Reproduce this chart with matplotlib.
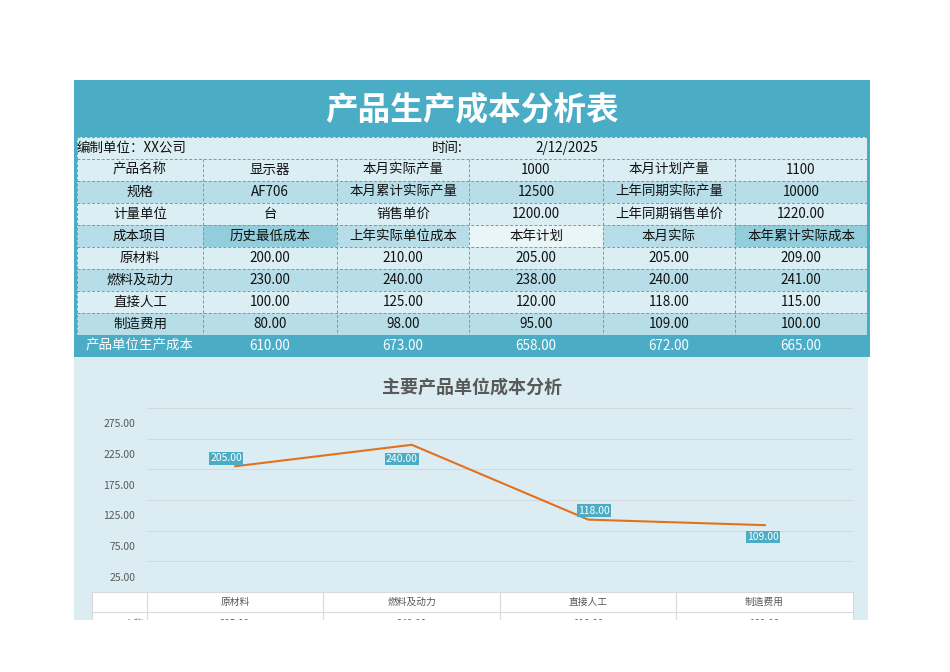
import numpy as np
import matplotlib.pyplot as plt
from matplotlib.patches import Rectangle

plt.rcParams['font.family'] = ['Noto Sans CJK SC', 'DejaVu Sans']

# ---- 表格数据 ----
title = "产品生产成本分析表"
company = "编制单位：XX公司"
date_label = "时间:"
date_value = "2/12/2025"
info_rows = [
    ["产品名称", "显示器", "本月实际产量", "1000", "本月计划产量", "1100"],
    ["规格", "AF706", "本月累计实际产量", "12500", "上年同期实际产量", "10000"],
    ["计量单位", "台", "销售单价", "1200.00", "上年同期销售单价", "1220.00"],
]
headers = ["成本项目", "历史最低成本", "上年实际单位成本", "本年计划", "本月实际", "本年累计实际成本"]
items = ["原材料", "燃料及动力", "直接人工", "制造费用"]
hist_low = [200, 230, 100, 80]
last_year = [210, 240, 125, 98]
plan = [205, 238, 120, 95]
month_actual = [205, 240, 118, 109]
ytd = [209, 241, 115, 100]
total_label = "产品单位生产成本"

chart_title = "主要产品单位成本分析"
series_name = "名称"

# ---- 颜色 ----
TEAL = '#4BACC6'
LIGHT = '#DAEEF3'
MID = '#B7DEE8'
DARK = '#92CDDC'
PALE = '#EAF5F8'
CHART_BG = '#DBEDF3'
BORDER = '#4FA9C4'
LINE = '#E2711D'
GREY = '#595959'
FS = 9.7

fig = plt.figure(figsize=(9.5, 6.72), dpi=100)
bg = fig.add_axes([0, 0, 1, 1])
bg.set_xlim(0, 950)
bg.set_ylim(672, 0)
bg.axis('off')

cols = [77, 203, 337, 469, 603, 735, 867]
row_top = 137
row_h = 22


def cell_text(ci, ri, s, color='#111111', **kw):
    x = (cols[ci] + cols[ci + 1]) / 2
    y = row_top + row_h * ri + row_h / 2
    bg.text(x, y, s, ha='center', va='center', fontsize=FS, color=color, **kw)


def fill(x0, y0, x1, y1, c, z=1):
    bg.add_patch(Rectangle((x0, y0), x1 - x0, y1 - y0, facecolor=c, edgecolor='none', zorder=z))


# 外框与标题
fill(74, 80, 870, 357, TEAL, 0)
bg.text(472, 110, title, ha='center', va='center', fontsize=23.5, fontweight='bold', color='white')

# 编制单位行
fill(77, 137, 867, 159, LIGHT)
bg.text(77, 148, company, ha='left', va='center', fontsize=FS, color='#111111')
bg.text(463, 148, date_label, ha='right', va='center', fontsize=FS, color='#111111')
bg.text(567, 148, date_value, ha='center', va='center', fontsize=FS, color='#111111')

# 基本信息行
for i, row in enumerate(info_rows):
    r = i + 1
    fill(77, row_top + r * row_h, 867, row_top + (r + 1) * row_h, LIGHT if i % 2 == 0 else MID)
    for ci, s in enumerate(row):
        cell_text(ci, r, s)

# 表头行
r = 4
header_colors = [MID, DARK, MID, PALE, MID, DARK]
for ci, s in enumerate(headers):
    fill(cols[ci], row_top + r * row_h, cols[ci + 1], row_top + (r + 1) * row_h, header_colors[ci])
    cell_text(ci, r, s)

# 成本明细
series = [hist_low, last_year, plan, month_actual, ytd]
for i, name in enumerate(items):
    r = 5 + i
    fill(77, row_top + r * row_h, 867, row_top + (r + 1) * row_h, LIGHT if i % 2 == 0 else MID)
    cell_text(0, r, name)
    for ci, vals in enumerate(series):
        cell_text(ci + 1, r, "%.2f" % vals[i])

# 合计行
r = 9
bg.text(86, row_top + r * row_h + row_h / 2, total_label, ha='left', va='center', fontsize=FS, color='white')
for ci, vals in enumerate(series):
    cell_text(ci + 1, r, "%.2f" % sum(vals), color='white')

# 虚线边框
dash = (0, (3, 2))
for k in range(0, 10):
    y = row_top + k * row_h
    bg.plot([77, 867], [y, y], color=BORDER, lw=0.7, ls=dash, zorder=2)
for x in cols:
    bg.plot([x, x], [159, 335], color=BORDER, lw=0.7, ls=dash, zorder=2)
for x in [77, 867]:
    bg.plot([x, x], [137, 159], color=BORDER, lw=0.7, ls=dash, zorder=2)

# 图表区域
fill(74, 357, 868, 620, CHART_BG, 0)
bg.text(472, 387, chart_title, ha='center', va='center', fontsize=13, fontweight='bold', color=GREY)

# 数据表
tab_x = [92, 147, 323, 500, 676, 853]
fill(92, 592, 853, 640, 'white', 1)
for y in [592, 612]:
    bg.plot([92, 853], [y, y], color='#D9D9D9', lw=0.8, zorder=2)
for x in tab_x:
    bg.plot([x, x], [592, 640], color='#D9D9D9', lw=0.8, zorder=2)
for k, name in enumerate(items):
    xc = (tab_x[k + 1] + tab_x[k + 2]) / 2
    bg.text(xc, 602, name, ha='center', va='center', fontsize=7, color=GREY)
    bg.text(xc, 624, "%.2f" % month_actual[k], ha='center', va='center', fontsize=7, color=GREY)
bg.text(144, 624, series_name, ha='right', va='center', fontsize=7, color=GREY)
fill(0, 620, 950, 672, 'white', 10)

# 折线图
ax = fig.add_axes([147 / 950, (672 - 592) / 672, 706 / 950, (592 - 408) / 672])
ax.set_facecolor('none')
x = np.arange(len(items))
ax.plot(x, month_actual, color=LINE, lw=1.5)
ax.set_xlim(-0.5, len(items) - 0.5)
ax.set_ylim(0, 300)
ax.set_xticks([])
ax.set_yticks(np.arange(25, 300, 50))
ax.set_yticklabels(["%.2f" % v for v in np.arange(25, 300, 50)], fontsize=7.5, color=GREY)
ax.set_yticks(np.arange(50, 301, 50), minor=True)
ax.tick_params(axis='y', which='both', length=0, pad=8.5)
ax.grid(axis='y', which='minor', color='#D4D9DD', lw=0.8)
for s in ax.spines.values():
    s.set_visible(False)

label_offsets = [(-9, 8), (-10, -14), (6, 9), (-2, -12)]
for xi, v, off in zip(x, month_actual, label_offsets):
    ax.annotate("%.2f" % v, (xi, v), xytext=off, textcoords='offset pixels',
                ha='center', va='center', fontsize=7.5, color='white',
                bbox=dict(boxstyle='square,pad=0.12', facecolor=TEAL, edgecolor='none'))

fig.savefig('out.png', dpi=100)
